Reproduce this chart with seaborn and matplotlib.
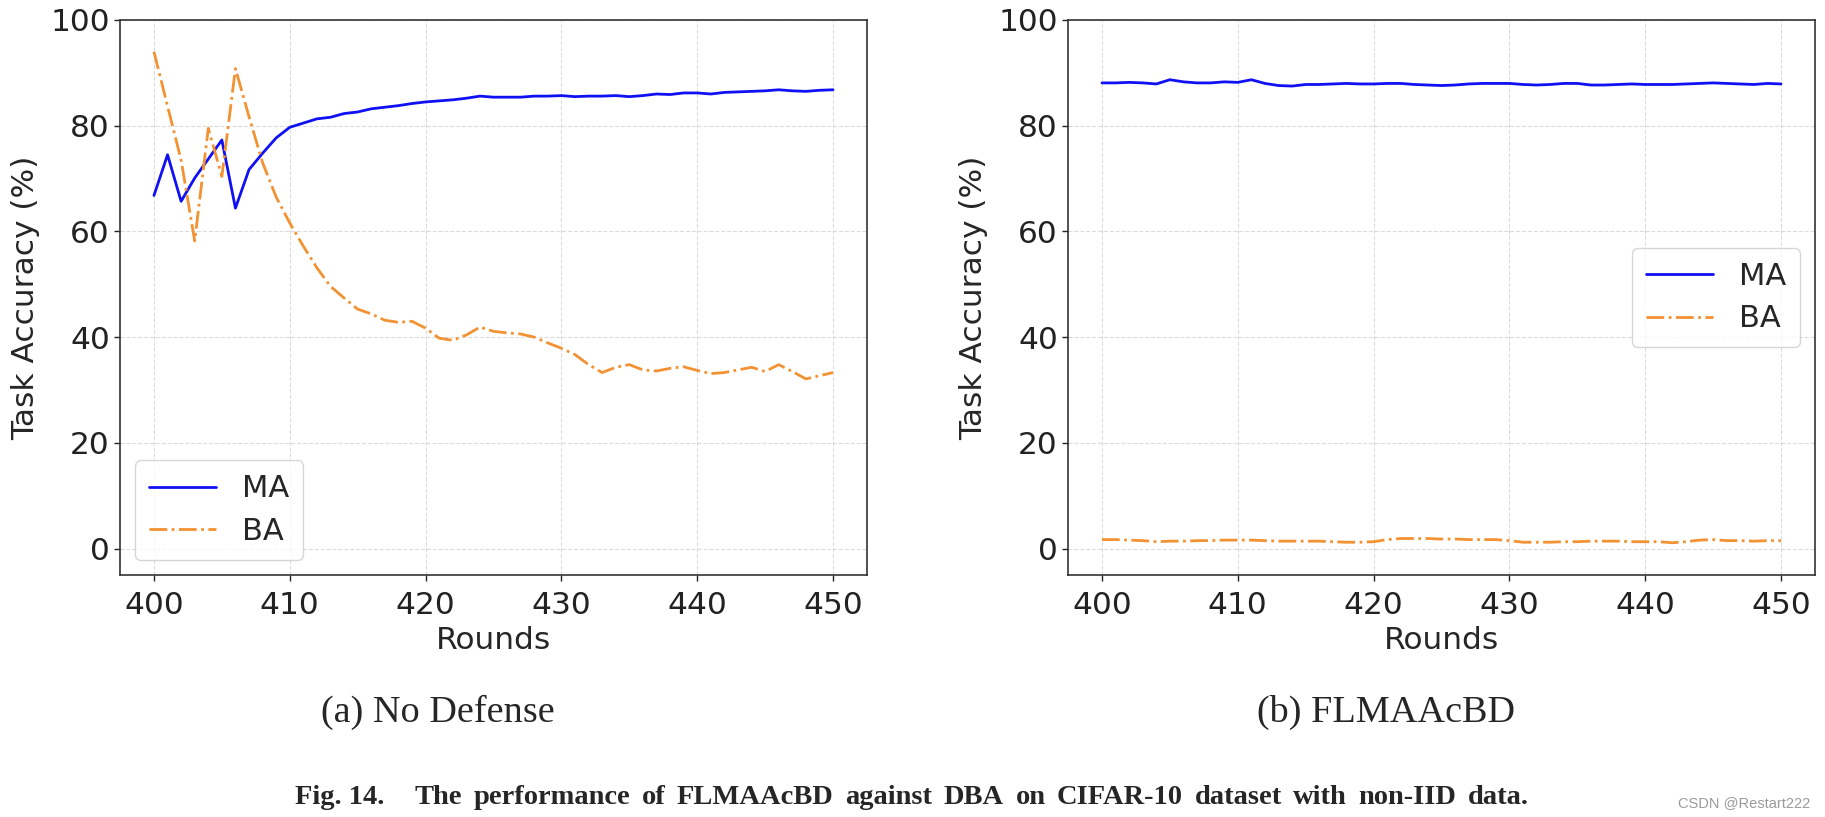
import numpy as np
import pandas as pd
import matplotlib
matplotlib.use("Agg")
import matplotlib.pyplot as plt
import seaborn as sns

# ---------------- data ----------------
rounds = list(range(400, 451))

ma_no_defense = [66.8, 74.5, 65.7, 70.1, 73.7, 77.3, 64.4, 71.7, 74.8, 77.7,
                 79.7, 80.5, 81.3, 81.6, 82.3, 82.6, 83.2, 83.5, 83.8, 84.2,
                 84.5, 84.7, 84.9, 85.2, 85.6, 85.4, 85.4, 85.4, 85.6, 85.6,
                 85.7, 85.5, 85.6, 85.6, 85.7, 85.5, 85.7, 86.0, 85.9, 86.2,
                 86.2, 86.0, 86.3, 86.4, 86.5, 86.6, 86.8, 86.6, 86.5, 86.7,
                 86.8]
ba_no_defense = [94.0, 83.7, 73.5, 58.2, 79.5, 70.4, 90.8, 81.7, 73.0, 66.5,
                 61.6, 57.2, 53.1, 49.6, 47.4, 45.3, 44.4, 43.2, 42.8, 43.0,
                 41.7, 39.8, 39.4, 40.4, 41.9, 41.1, 40.8, 40.6, 40.0, 38.9,
                 37.9, 36.7, 34.8, 33.3, 34.3, 34.8, 33.8, 33.6, 34.1, 34.4,
                 33.7, 33.1, 33.3, 33.8, 34.3, 33.5, 34.8, 33.5, 32.1, 32.7,
                 33.3]
ma_flmaacbd = [88.1, 88.1, 88.2, 88.1, 87.9, 88.7, 88.3, 88.1, 88.1, 88.3,
               88.2, 88.7, 88.0, 87.6, 87.5, 87.8, 87.8, 87.9, 88.0, 87.9,
               87.9, 88.0, 88.0, 87.8, 87.7, 87.6, 87.7, 87.9, 88.0, 88.0,
               88.0, 87.8, 87.7, 87.8, 88.0, 88.0, 87.7, 87.7, 87.8, 87.9,
               87.8, 87.8, 87.8, 87.9, 88.0, 88.1, 88.0, 87.9, 87.8, 88.0,
               87.9]
ba_flmaacbd = [1.7, 1.7, 1.6, 1.5, 1.3, 1.4, 1.4, 1.5, 1.5, 1.6,
               1.6, 1.6, 1.5, 1.4, 1.4, 1.4, 1.4, 1.3, 1.2, 1.2,
               1.3, 1.7, 1.9, 1.9, 1.9, 1.8, 1.8, 1.7, 1.7, 1.7,
               1.5, 1.2, 1.2, 1.2, 1.3, 1.3, 1.4, 1.4, 1.4, 1.3,
               1.3, 1.3, 1.1, 1.3, 1.6, 1.7, 1.5, 1.5, 1.4, 1.5,
               1.5]

series_names = ["MA", "BA"]
panel_captions = ["(a) No Defense", "(b) FLMAAcBD"]
x_label = "Rounds"
y_label = "Task Accuracy (%)"
x_ticks = [400, 410, 420, 430, 440, 450]
y_ticks = [0, 20, 40, 60, 80, 100]
fig_caption_bold = "Fig. 14."
fig_caption_rest = "The performance of FLMAAcBD against DBA on CIFAR-10 dataset with non-IID data."
watermark = "CSDN @Restart222"

# ---------------- style ----------------
sns.set_style("ticks")
plt.rcParams["font.family"] = ["DejaVu Sans"]

W, H = 1825, 817
fig = plt.figure(figsize=(W / 100, H / 100), dpi=100)
fig.patch.set_facecolor("white")

ax_l = fig.add_axes([120 / W, 242 / H, 747 / W, 555 / H])
ax_r = fig.add_axes([1068 / W, 242 / H, 747 / W, 555 / H])

blue = "#1010f5"
orange = "#f39232"
FS = 22.5

panels = [
    (ax_l, ma_no_defense, ba_no_defense, "lower left"),
    (ax_r, ma_flmaacbd, ba_flmaacbd, "center right"),
]

for ax, ma, ba, loc in panels:
    df = pd.DataFrame({"Round": rounds, "MA": ma, "BA": ba})
    sns.lineplot(data=df, x="Round", y="MA", ax=ax, color=blue,
                 linewidth=2.0, label=series_names[0])
    sns.lineplot(data=df, x="Round", y="BA", ax=ax, color=orange,
                 linewidth=2.0, linestyle="-.", label=series_names[1])
    ax.set_xlim(397.5, 452.5)
    ax.set_ylim(-5, 100)
    ax.set_xticks(x_ticks)
    ax.set_yticks(y_ticks)
    ax.tick_params(axis="both", labelsize=FS, direction="out", length=4.3,
                   width=1.0, colors="#222222")
    ax.tick_params(axis="x", pad=7.5)
    ax.tick_params(axis="y", pad=3.0)
    ax.set_xlabel(x_label, fontsize=FS, labelpad=4)
    ax.set_ylabel(y_label, fontsize=FS, labelpad=7)
    ax.grid(True, linestyle="--", linewidth=0.8, color="#cccccc", alpha=0.7)
    for s in ax.spines.values():
        s.set_visible(True)
        s.set_color("#333333")
        s.set_linewidth(1.2)
    leg = ax.legend(loc=loc, fontsize=22, frameon=True, handlelength=2.2,
                    borderpad=0.45, labelspacing=0.45, handletextpad=0.85,
                    borderaxespad=0.5)
    leg.get_frame().set_edgecolor("#cccccc")
    leg.get_frame().set_linewidth(1.0)

# panel captions
serif = ["Liberation Serif", "DejaVu Serif"]
fig.text(438 / W, 1 - 721.7 / H, panel_captions[0], ha="center", va="baseline",
         fontsize=27.5, family=serif)
fig.text(1386 / W, 1 - 721.7 / H, panel_captions[1], ha="center", va="baseline",
         fontsize=27.5, family=serif)

# figure caption, justified between x=295 and x=1529
cap_fs = 20.5
units = [fig_caption_bold] + fig_caption_rest.split()
texts = [fig.text(0, 1 - 804 / H, u, ha="left", va="baseline", fontsize=cap_fs,
                  family=serif, fontweight="bold") for u in units]
fig.canvas.draw()
r = fig.canvas.get_renderer()
widths = [t.get_window_extent(renderer=r).width for t in texts]
x0, x1 = 295.0, 1529.0
n_gaps = len(units) - 1
weights = [2.6] + [1.0] * (n_gaps - 1)
gap_unit = (x1 - x0 - sum(widths)) / sum(weights)
x = x0
for i, (t, w) in enumerate(zip(texts, widths)):
    t.set_x(x / W)
    if i < n_gaps:
        x += w + gap_unit * weights[i]

fig.text(1810 / W, 1 - 807 / H, watermark, ha="right", va="baseline",
         fontsize=10.5, color="#9a9a9a", family=["Liberation Sans", "DejaVu Sans"])

fig.savefig("out.png", dpi=100, facecolor="white")
